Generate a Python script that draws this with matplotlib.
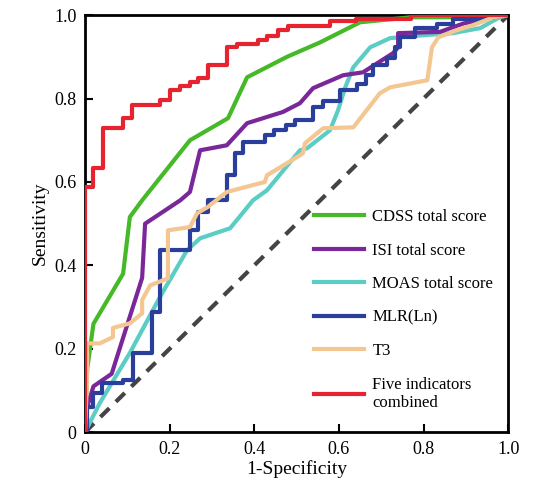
import matplotlib.pyplot as plt

# ROC curves
cdss_x = [0, 0.005, 0.02, 0.09, 0.106, 0.135, 0.248, 0.338, 0.383, 0.477, 0.556, 0.65, 0.77, 0.86, 1.0]
cdss_y = [0, 0.15, 0.26, 0.38, 0.516, 0.556, 0.70, 0.753, 0.851, 0.90, 0.935, 0.983, 0.995, 0.995, 1.0]

isi_x = [0, 0.005, 0.02, 0.063, 0.135, 0.142, 0.225, 0.248, 0.272, 0.335, 0.383, 0.468, 0.508, 0.539,
         0.61, 0.657, 0.728, 0.74, 0.74, 0.839, 0.894, 0.965, 1.0]
isi_y = [0, 0.06, 0.11, 0.14, 0.37, 0.50, 0.556, 0.576, 0.676, 0.688, 0.741, 0.768, 0.789, 0.825,
         0.856, 0.863, 0.909, 0.923, 0.957, 0.96, 0.98, 0.995, 1.0]

moas_x = [0, 0.035, 0.106, 0.177, 0.241, 0.272, 0.343, 0.397, 0.43, 0.508, 0.525, 0.579, 0.598, 0.615,
          0.634, 0.674, 0.721, 0.8, 0.87, 0.934, 0.98, 1.0]
moas_y = [0, 0.07, 0.19, 0.324, 0.436, 0.465, 0.489, 0.556, 0.58, 0.676, 0.681, 0.724, 0.772, 0.827,
          0.875, 0.923, 0.945, 0.952, 0.957, 0.969, 0.995, 1.0]

mlr_x = [0, 0.005, 0.005, 0.02, 0.02, 0.04, 0.04, 0.09, 0.09, 0.113, 0.113, 0.158, 0.158, 0.177, 0.177,
         0.248, 0.248, 0.267, 0.267, 0.29, 0.29, 0.335, 0.335, 0.355, 0.355, 0.373, 0.373, 0.425, 0.425,
         0.447, 0.447, 0.475, 0.475, 0.496, 0.496, 0.539, 0.539, 0.563, 0.563, 0.603, 0.603, 0.643, 0.643,
         0.665, 0.665, 0.68, 0.68, 0.713, 0.713, 0.733, 0.733, 0.745, 0.745, 0.78, 0.78, 0.832, 0.832,
         0.87, 0.87, 0.95, 0.95, 1.0]
mlr_y = [0, 0, 0.06, 0.06, 0.094, 0.094, 0.117, 0.117, 0.125, 0.125, 0.19, 0.19, 0.288, 0.288, 0.436,
         0.436, 0.484, 0.484, 0.528, 0.528, 0.556, 0.556, 0.616, 0.616, 0.669, 0.669, 0.696, 0.696, 0.712,
         0.712, 0.724, 0.724, 0.736, 0.736, 0.748, 0.748, 0.78, 0.78, 0.795, 0.795, 0.82, 0.82, 0.835,
         0.835, 0.856, 0.856, 0.88, 0.88, 0.897, 0.897, 0.923, 0.923, 0.947, 0.947, 0.969, 0.969, 0.98,
         0.98, 0.99, 0.99, 1.0, 1.0]

t3_x = [0, 0.005, 0.005, 0.035, 0.066, 0.066, 0.106, 0.135, 0.135, 0.154, 0.196, 0.196, 0.248, 0.265,
        0.29, 0.335, 0.425, 0.43, 0.508, 0.515, 0.52, 0.563, 0.634, 0.697, 0.721, 0.809, 0.82, 0.835,
        0.879, 0.917, 0.965, 1.0]
t3_y = [0, 0.14, 0.213, 0.213, 0.228, 0.25, 0.261, 0.285, 0.317, 0.352, 0.369, 0.484, 0.492, 0.525,
        0.54, 0.576, 0.60, 0.616, 0.664, 0.669, 0.693, 0.729, 0.731, 0.813, 0.827, 0.844, 0.923, 0.947,
        0.964, 0.976, 0.995, 1.0]

five_x = [0, 0, 0.019, 0.019, 0.043, 0.043, 0.09, 0.09, 0.11, 0.11, 0.177, 0.177, 0.2, 0.2, 0.224, 0.224,
          0.248, 0.248, 0.267, 0.267, 0.29, 0.29, 0.335, 0.335, 0.359, 0.359, 0.41, 0.41, 0.43, 0.43,
          0.455, 0.455, 0.48, 0.48, 0.58, 0.58, 0.64, 0.64, 0.77, 0.77, 1.0]
five_y = [0, 0.587, 0.587, 0.633, 0.633, 0.729, 0.729, 0.753, 0.753, 0.784, 0.784, 0.796, 0.796, 0.82, 0.82,
          0.83, 0.83, 0.84, 0.84, 0.85, 0.85, 0.88, 0.88, 0.923, 0.923, 0.93, 0.93, 0.94, 0.94, 0.95,
          0.95, 0.965, 0.965, 0.975, 0.975, 0.985, 0.985, 0.992, 0.992, 1.0, 1.0]

names = ['CDSS total score', 'ISI total score', 'MOAS total score', 'MLR(Ln)', 'T3',
         'Five indicators\ncombined']
colors = ['#45b928', '#7a2899', '#5ccdc4', '#2a3e9c', '#f4c692', '#e82330']
ticks = [0, 0.2, 0.4, 0.6, 0.8, 1.0]
ticklabels = ['0', '0.2', '0.4', '0.6', '0.8', '1.0']

plt.rcParams['font.family'] = ['Liberation Serif', 'DejaVu Serif']

fig = plt.figure(figsize=(5.36, 4.90), dpi=100)
ax = fig.add_axes([0.1586, 0.118, 0.7894, 0.851])

ax.plot([0, 1], [0, 1], color='#444444', lw=3, dashes=(3, 2.2), zorder=1)
curves = [(cdss_x, cdss_y), (isi_x, isi_y), (moas_x, moas_y), (mlr_x, mlr_y), (t3_x, t3_y), (five_x, five_y)]
order = [3, 4, 2, 5, 6, 7]
for (xs, ys), name, col, z in zip(curves, names, colors, order):
    ax.plot(xs, ys, color=col, lw=3, label=name, zorder=z)

ax.set_xlim(0, 1)
ax.set_ylim(0, 1)
ax.set_xticks(ticks)
ax.set_xticklabels(ticklabels)
ax.set_yticks(ticks)
ax.set_yticklabels(ticklabels)
ax.tick_params(direction='in', length=6, width=1.5, labelsize=13, pad=6)
for s in ax.spines.values():
    s.set_linewidth(2)
ax.set_xlabel('1-Specificity', fontsize=14, labelpad=2)
ax.set_ylabel('Sensitivity', fontsize=14, labelpad=4)

leg = ax.legend(loc='lower right', bbox_to_anchor=(1.0, 0.015), frameon=False, fontsize=12,
                handlelength=3.0, labelspacing=1.05, handletextpad=0.5)

fig.savefig('out.png', dpi=100)
